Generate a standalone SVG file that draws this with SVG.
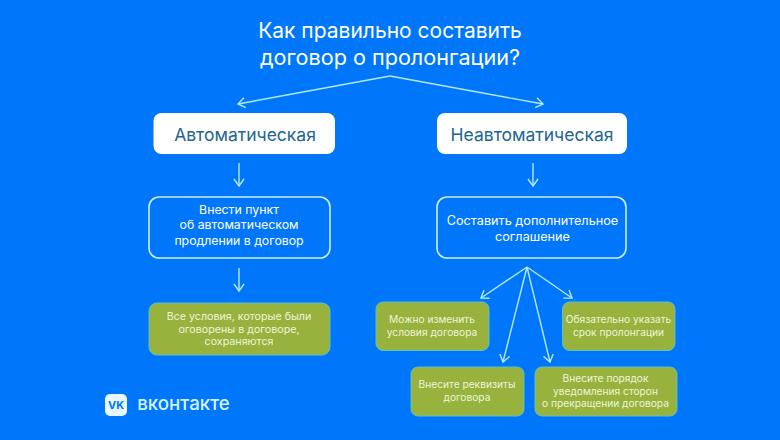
<svg xmlns="http://www.w3.org/2000/svg" width="780" height="440" viewBox="0 0 780 440">
<style>
text{font-family:"Inter","Noto Sans","Liberation Sans",sans-serif;text-anchor:middle}
.t{fill:#fff;font-size:21px}
.h{fill:#22658f;font-size:17.5px}
.o{fill:none;stroke:#c8efff;stroke-width:1.6}
.w{fill:#fff;font-size:12.3px}
.g{fill:#98b23e;stroke:#5cc0c8;stroke-width:1}
.gt{fill:#eef5d8;font-size:10.2px}
.c{fill:none;stroke:#b4e8f7;stroke-width:1.4;marker-end:url(#a)}
</style>
<defs><marker id="a" markerUnits="userSpaceOnUse" markerWidth="16" markerHeight="16" refX="12" refY="8" orient="auto"><path d="M5 3L12 8L5 13" fill="none" stroke="#b4e8f7" stroke-width="1.4"/></marker></defs>
<rect width="780" height="440" fill="#0077fa"/>
<g id="title"><text class="t" x="390" y="38">Как правильно составить</text><text class="t" x="390" y="65" style="font-size:21.6px">договор о пролонгации?</text></g>
<g id="connectors">
<path class="c" d="M390 76L238 104"/><path class="c" d="M390 76L543 104"/>
<path class="c" d="M239 163V186"/><path class="c" d="M533 163V186"/><path class="c" d="M239 268V291"/>
<path class="c" d="M527 267L481 298"/><path class="c" d="M527 267L503 362"/><path class="c" d="M527 267L550 362"/><path class="c" d="M527 267L572 298"/>
</g>
<g id="auto"><rect x="153.500" y="113" width="181.500" height="41" rx="8" fill="#fff"/><text class="h" x="245" y="141">Автоматическая</text></g>
<g id="nonauto"><rect x="437" y="113" width="190" height="41" rx="8" fill="#fff"/><text class="h" x="532" y="141">Неавтоматическая</text></g>
<g id="n1"><rect class="o" x="149" y="197" width="181" height="61" rx="10"/><text class="w" x="239" y="214">Внести пункт</text><text class="w" x="239" y="229">об автоматическом</text><text class="w" x="239" y="245">продлении в договор</text></g>
<g id="n2"><rect class="o" x="437" y="197" width="189" height="61" rx="10"/><text class="w" x="532.500" y="225" style="font-size:12.700px">Составить дополнительное</text><text class="w" x="532.500" y="241" style="font-size:12.700px">соглашение</text></g>
<g id="n3"><rect class="g" x="149" y="303" width="181" height="52" rx="8"/><text class="gt" x="239" y="320" style="font-size:10.700px">Все условия, которые были</text><text class="gt" x="239" y="333" style="font-size:10.700px">оговорены в договоре,</text><text class="gt" x="239" y="345" style="font-size:10.700px">сохраняются</text></g>
<g id="n4"><rect class="g" x="376" y="302" width="113" height="48.500" rx="7"/><text class="gt" x="432" y="323">Можно изменить</text><text class="gt" x="432" y="336">условия договора</text></g>
<g id="n5"><rect class="g" x="562.500" y="302" width="112.500" height="48.500" rx="7"/><text class="gt" x="618.500" y="323">Обязательно указать</text><text class="gt" x="618.500" y="336">срок пролонгации</text></g>
<g id="n6"><rect class="g" x="411" y="367" width="113" height="49" rx="7"/><text class="gt" x="467" y="388">Внесите реквизиты</text><text class="gt" x="467" y="401">договора</text></g>
<g id="n7"><rect class="g" x="535" y="367" width="142" height="49" rx="7"/><text class="gt" x="605.500" y="382">Внесите порядок</text><text class="gt" x="605.500" y="395">уведомления сторон</text><text class="gt" x="605.500" y="407">о прекращении договора</text></g>
<g id="logo"><rect x="105" y="394" width="22" height="22" rx="5" fill="#e8f6ff"/><text x="116" y="409" style="font-size:11px;font-weight:700;fill:#0077fa">VK</text><text x="183.500" y="410" style="font-size:18.700px;font-weight:500;fill:#d4f2ff">вконтакте</text></g>
</svg>
